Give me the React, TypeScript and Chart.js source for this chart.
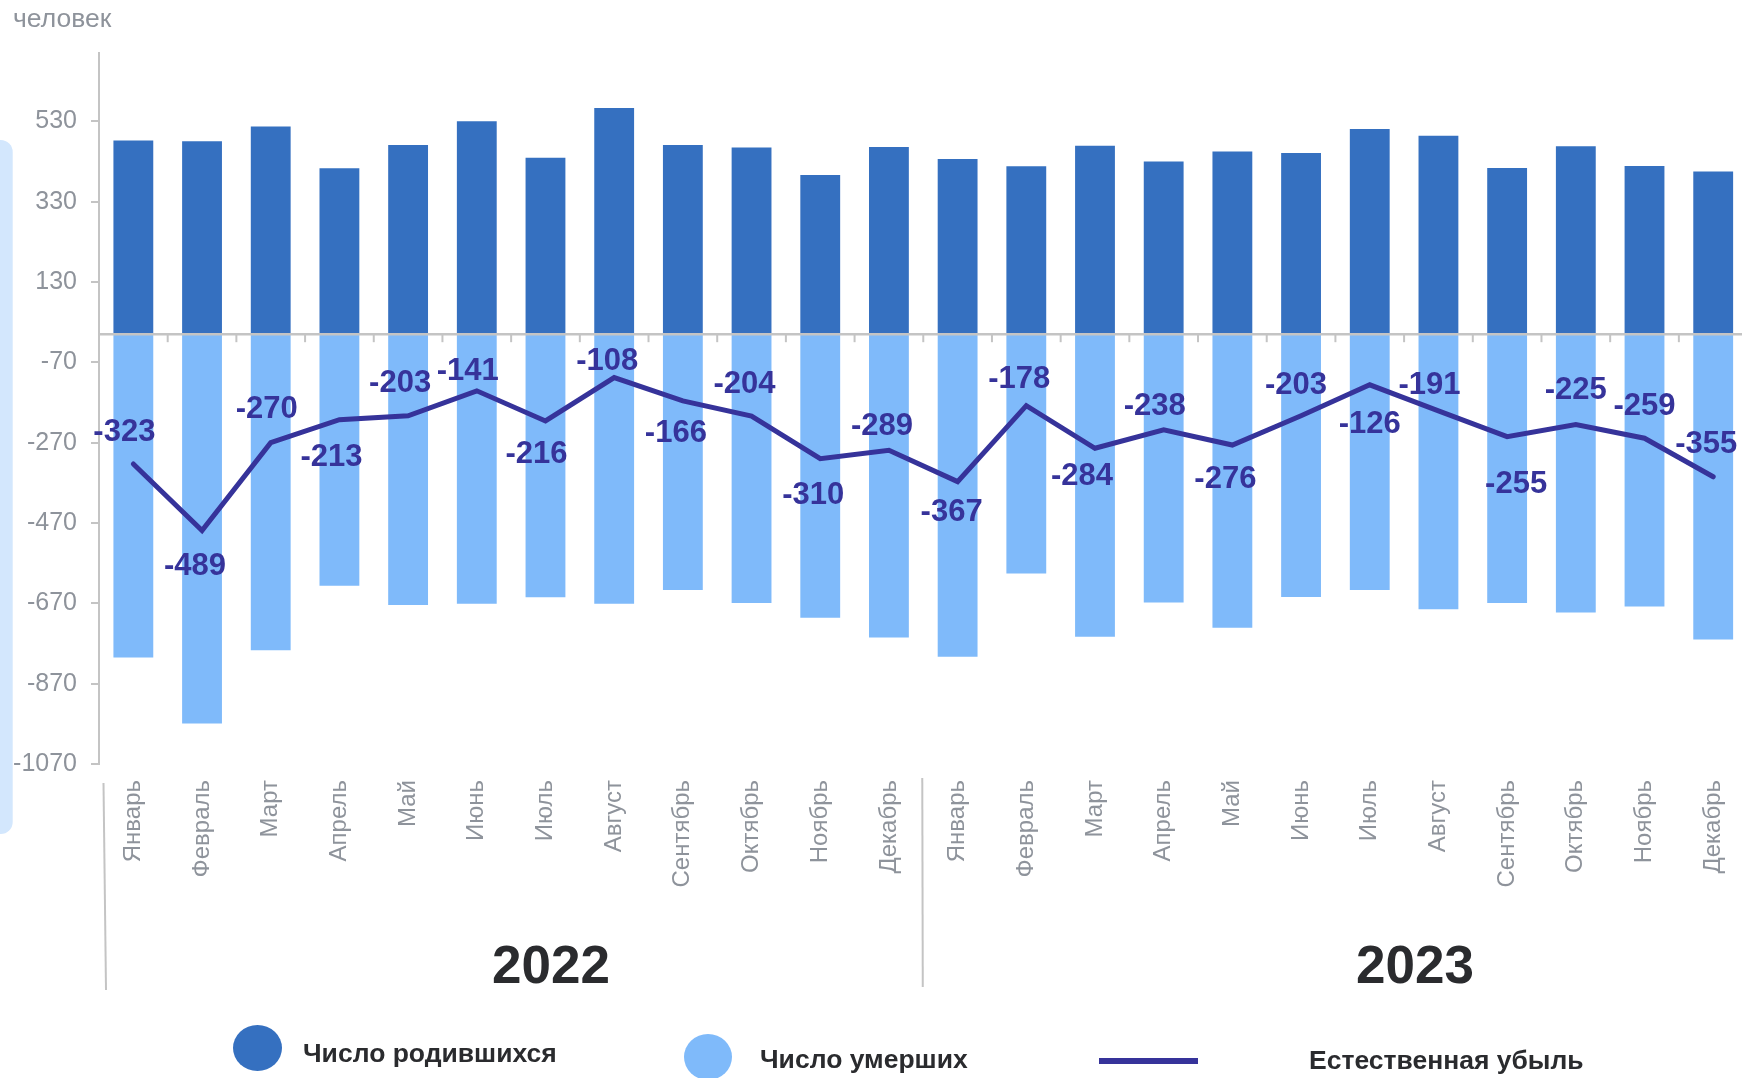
import React, { useEffect, useRef } from 'react';
import { Chart, registerables } from 'chart.js';

Chart.register(...registerables);

const months = ['Январь', 'Февраль', 'Март', 'Апрель', 'Май', 'Июнь', 'Июль', 'Август', 'Сентябрь', 'Октябрь', 'Ноябрь', 'Декабрь'];
const categories = [...months, ...months];
const years = ['2022', '2023'];
const births = [482, 480, 517, 413, 471, 530, 439, 563, 471, 465, 396, 466, 436, 418, 469, 430, 455, 451, 511, 494, 414, 468, 419, 405];
const deaths = [-805, -969, -787, -626, -674, -671, -655, -671, -637, -669, -706, -755, -803, -596, -753, -668, -731, -654, -637, -685, -669, -693, -678, -760];
const naturalLoss = [-323, -489, -270, -213, -203, -141, -216, -108, -166, -204, -310, -289, -367, -178, -284, -238, -276, -203, -126, -191, -255, -225, -259, -355];
const yTicks = [530, 330, 130, -70, -270, -470, -670, -870, -1070];
const unitLabel = 'человек';
const seriesNames = ['Число родившихся', 'Число умерших', 'Естественная убыль'];

// label placement (pixels, relative to the line point)
const labelDx = [-9, -7, -4, -8, -8, -9, -9, -7, -7, -7, -7, -7, -6, -7, -13, -9, -7, -5, 0, -9, 9, 0, 0, -7];
const labelDy = [-34, 33, -36, 35, -35, -22, 31, -19, 30, -34, 34, -26, 28, -29, 26, -26, 32, -33, 37, -28, 45, -37, -34, -35];

const DARK = '#3570C0';
const LIGHT = '#7FBAFA';
const LINE = '#36339A';
const GRAY = '#c4c4c4';
const TICK_TEXT = '#8e939b';
const TEXT_DARK = '#2a2b2e';
const FONT = '"Liberation Sans", Arial, sans-serif';

const W = 1758;
const H = 1078;

const decor = {
  id: 'decor',
  beforeDraw(chart: any) {
    const { ctx } = chart;
    ctx.save();
    ctx.fillStyle = '#d3e7fd';
    ctx.beginPath();
    ctx.roundRect(-20, 140, 32.7, 694, 12);
    ctx.fill();
    ctx.restore();
  },
  afterDatasetsDraw(chart: any) {
    const { ctx, chartArea, scales } = chart;
    const x = scales.x;
    const y = scales.y;
    const y0 = y.getPixelForValue(0);
    ctx.save();
    ctx.strokeStyle = GRAY;
    ctx.lineWidth = 2.5;
    ctx.beginPath();
    ctx.moveTo(chartArea.left, y0);
    ctx.lineTo(chartArea.right, y0);
    ctx.stroke();
    ctx.lineWidth = 2;
    for (let i = 1; i < categories.length; i++) {
      const bx = (x.getPixelForValue(i - 1) + x.getPixelForValue(i)) / 2;
      ctx.beginPath();
      ctx.moveTo(bx, y0);
      ctx.lineTo(bx, y0 + 8);
      ctx.stroke();
    }
    const meta = chart.getDatasetMeta(2);
    const fs = 31;
    ctx.font = `bold ${fs}px ${FONT}`;
    ctx.fillStyle = LINE;
    ctx.textAlign = 'center';
    ctx.textBaseline = 'alphabetic';
    meta.data.forEach((pt: any, i: number) => {
      ctx.fillText(String(naturalLoss[i]), pt.x + labelDx[i], pt.y + labelDy[i] + fs * 0.358);
    });
    ctx.restore();
  },
  afterDraw(chart: any) {
    const { ctx, chartArea, scales } = chart;
    const x = scales.x;
    ctx.save();
    // unit label
    ctx.font = `26.5px ${FONT}`;
    ctx.fillStyle = TICK_TEXT;
    ctx.textAlign = 'left';
    ctx.textBaseline = 'alphabetic';
    ctx.fillText(unitLabel, 13, 27);

    // year separators
    ctx.strokeStyle = GRAY;
    ctx.lineWidth = 2;
    const mid = (x.getPixelForValue(11) + x.getPixelForValue(12)) / 2;
    ctx.beginPath();
    ctx.moveTo(chartArea.left + 4.5, 783);
    ctx.lineTo(chartArea.left + 7, 990);
    ctx.stroke();
    ctx.beginPath();
    ctx.moveTo(mid - 1, 778);
    ctx.lineTo(mid - 0.5, 987);
    ctx.stroke();

    // year labels
    ctx.font = `bold 53px ${FONT}`;
    ctx.fillStyle = TEXT_DARK;
    ctx.textAlign = 'center';
    ctx.fillText(years[0], 551, 983);
    ctx.fillText(years[1], 1415, 983);

    // legend
    ctx.fillStyle = DARK;
    ctx.beginPath();
    ctx.ellipse(257.5, 1048, 24.5, 23, 0, 0, Math.PI * 2);
    ctx.fill();
    ctx.fillStyle = LIGHT;
    ctx.beginPath();
    ctx.ellipse(708, 1057, 24, 23, 0, 0, Math.PI * 2);
    ctx.fill();
    ctx.strokeStyle = LINE;
    ctx.lineWidth = 6;
    ctx.beginPath();
    ctx.moveTo(1099, 1061);
    ctx.lineTo(1198, 1061);
    ctx.stroke();

    ctx.font = `bold 26.5px ${FONT}`;
    ctx.fillStyle = TEXT_DARK;
    ctx.textAlign = 'left';
    ctx.fillText(seriesNames[0], 303, 1062);
    ctx.fillText(seriesNames[1], 760, 1068);
    ctx.fillText(seriesNames[2], 1309, 1069);
    ctx.restore();
  },
};

export default function App() {
  const ref = useRef<HTMLCanvasElement | null>(null);

  useEffect(() => {
    if (!ref.current) return;
    const chart = new Chart(ref.current, {
      type: 'bar',
      data: {
        labels: categories,
        datasets: [
          {
            type: 'bar',
            label: seriesNames[0],
            data: births,
            backgroundColor: DARK,
            grouped: false,
            barPercentage: 0.58,
            categoryPercentage: 1,
            order: 2,
          } as any,
          {
            type: 'bar',
            label: seriesNames[1],
            data: deaths,
            backgroundColor: LIGHT,
            grouped: false,
            barPercentage: 0.58,
            categoryPercentage: 1,
            order: 2,
          } as any,
          {
            type: 'line',
            label: seriesNames[2],
            data: naturalLoss,
            borderColor: LINE,
            backgroundColor: LINE,
            borderWidth: 5,
            pointRadius: 0,
            tension: 0,
            borderCapStyle: 'round',
            borderJoinStyle: 'miter',
            order: 0,
          } as any,
        ],
      },
      options: {
        responsive: false,
        animation: false,
        devicePixelRatio: 1,
        layout: { padding: { top: 53, left: 0, right: 0, bottom: 0 } },
        plugins: {
          legend: { display: false },
          tooltip: { enabled: false },
        },
        scales: {
          x: {
            afterFit: (s: any) => {
              s.height = H - 764;
            },
            grid: { display: false, drawTicks: false },
            border: { display: false },
            ticks: {
              autoSkip: false,
              maxRotation: 90,
              minRotation: 90,
              padding: 16,
              color: TICK_TEXT,
              font: { family: FONT, size: 24 },
            },
          },
          y: {
            min: -1070,
            max: 700,
            afterBuildTicks: (s: any) => {
              s.ticks = yTicks.map((v) => ({ value: v }));
            },
            afterFit: (s: any) => {
              s.width = 99;
            },
            border: { display: true, color: GRAY, width: 2 },
            grid: {
              drawOnChartArea: false,
              drawTicks: true,
              tickLength: 8,
              color: GRAY,
              lineWidth: 2,
            },
            ticks: {
              padding: 14,
              color: TICK_TEXT,
              font: { family: FONT, size: 25 },
              callback: (v: any) => String(v),
            },
          },
        },
      },
      plugins: [decor],
    });
    return () => chart.destroy();
  }, []);

  return (
    <div style={{ position: 'fixed', left: 0, top: 0, width: W, height: H, overflow: 'hidden', background: '#fff' }}>
      <canvas ref={ref} width={W} height={H} style={{ display: 'block', width: W, height: H }} />
    </div>
  );
}
